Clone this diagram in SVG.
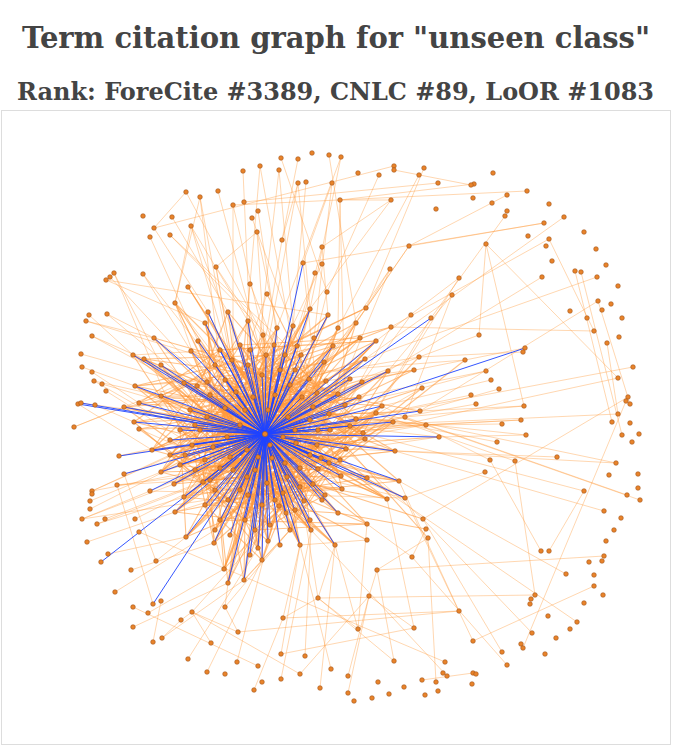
<svg xmlns="http://www.w3.org/2000/svg" width="700" height="750" viewBox="0 0 700 750">
<style>
.t{font-family:"DejaVu Serif","Liberation Serif",serif;font-weight:bold;fill:#444;text-anchor:middle}
#orange path{stroke:#ff9a3c;stroke-opacity:.4;stroke-width:1;fill:none}
#orange .d path{stroke-opacity:.6;stroke-width:1.1}
#blue path{stroke:#1f44ff;stroke-opacity:.9;stroke-width:1;fill:none}
#nodes circle{fill:#e8832a;stroke:#a3541a;stroke-width:.6}
</style>
<rect width="700" height="750" fill="#fff"/>
<text class="t" x="336" y="48" font-size="29" font-stretch="condensed" textLength="628" lengthAdjust="spacingAndGlyphs">Term citation graph for "unseen class"</text>
<text class="t" x="335.5" y="100" font-size="24.5" font-stretch="condensed" textLength="637" lengthAdjust="spacingAndGlyphs">Rank: ForeCite #3389, CNLC #89, LoOR #1083</text>
<rect x="1.5" y="110.5" width="669" height="634" fill="#fff" stroke="#ddd"/>
<g id="connectors">
<g id="orange">
<path d="M260 166L302 397"/><path d="M243 171L253 397"/><path d="M186 192L154 228"/><path d="M186 192L290 385"/><path d="M200 197L175 303"/><path d="M200 197L247 450"/><path d="M200 197L225 408"/><path d="M218 191L283 437"/><path d="M233 205L233 470"/><path d="M244 202L438 183"/><path d="M258 211L300 487"/><path d="M252 218L317 393"/><path d="M191 226L175 303"/><path d="M191 226L258 457"/><path d="M191 226L285 463"/><path d="M170 235L363 433"/><path d="M170 235L338 394"/><path d="M257 232L216 267"/><path d="M257 232L272 458"/><path d="M216 267L302 397"/><path d="M114 273L180 430"/><path d="M106 280L328 315"/><path d="M143 274L236 392"/><path d="M250 284L290 385"/><path d="M267 294L213 447"/><path d="M188 287L268 410"/><path d="M175 303L247 450"/><path d="M175 303L230 457"/><path d="M175 303L300 468"/><path d="M86 321L262 375"/><path d="M107 314L240 425"/><path d="M92 336L225 408"/><path d="M154 338L283 437"/><path d="M263 335L300 468"/><path d="M248 321L210 395"/><path d="M110 277L207 382"/>
<path d="M281 158L327 292"/><path d="M341 157L310 309"/><path d="M341 157L277 328"/><path d="M279 170L253 397"/><path d="M394 166L154 228"/><path d="M298 183L282 240"/><path d="M298 183L262 375"/><path d="M306 182L293 326"/><path d="M332 183L303 263"/><path d="M332 183L314 338"/><path d="M340 200L346 449"/><path d="M340 200L391 200"/><path d="M391 200L322 247"/><path d="M391 200L310 309"/><path d="M424 168L366 308"/><path d="M419 175L338 328"/><path d="M527 191L233 205"/><path d="M282 240L247 450"/><path d="M322 247L270 445"/><path d="M409 246L544 223"/><path d="M409 246L356 323"/><path d="M303 263L317 393"/><path d="M322 264L230 457"/><path d="M315 273L258 457"/><path d="M390 269L338 394"/><path d="M390 269L302 397"/><path d="M459 278L363 433"/><path d="M452 295L405 417"/><path d="M327 292L285 463"/><path d="M366 308L288 417"/><path d="M310 309L267 483"/><path d="M328 315L225 408"/><path d="M411 315L300 468"/><path d="M431 318L363 433"/><path d="M277 328L213 447"/><path d="M293 326L247 477"/><path d="M338 328L272 458"/><path d="M356 323L230 457"/><path d="M391 327L300 487"/><path d="M314 338L240 425"/><path d="M360 338L227 437"/><path d="M298 159L282 240"/><path d="M329 155L356 323"/><path d="M379 175L327 292"/>
<path d="M471 185L394 170"/><path d="M474 184L340 200"/><path d="M507 195L409 246"/><path d="M505 216L431 318"/><path d="M544 223L303 263"/><path d="M564 217L365 359"/><path d="M549 239L391 327"/><path d="M549 239L594 331"/><path d="M486 244L479 335"/><path d="M486 244L618 378"/><path d="M486 244L524 406"/><path d="M542 277L388 371"/><path d="M597 277L365 359"/><path d="M598 301L420 411"/><path d="M581 272L622 435"/><path d="M594 331L391 327"/><path d="M612 422L575 271"/><path d="M630 404L598 301"/>
<path d="M102 384L283 437"/><path d="M81 403L240 425"/><path d="M74 427L184 383"/><path d="M119 456L227 437"/><path d="M92 491L240 425"/><path d="M90 509L213 447"/><path d="M82 519L150 491"/><path d="M97 524L210 480"/><path d="M105 519L233 470"/><path d="M117 485L247 477"/><path d="M150 491L230 457"/><path d="M135 519L258 457"/><path d="M175 512L287 477"/><path d="M184 497L272 458"/><path d="M133 355L268 410"/><path d="M144 359L247 450"/><path d="M106 391L192 445"/><path d="M94 381L180 430"/><path d="M161 365L283 437"/><path d="M191 351L240 425"/><path d="M197 386L300 468"/><path d="M207 382L270 445"/><path d="M139 429L233 470"/><path d="M124 474L213 447"/>
<path d="M523 352L419 357"/><path d="M607 343L618 414"/><path d="M633 367L356 419"/><path d="M618 378L363 433"/><path d="M628 397L423 519"/><path d="M626 401L523 648"/><path d="M618 414L350 426"/><path d="M616 463L376 413"/><path d="M616 463L395 451"/><path d="M557 457L346 449"/><path d="M627 495L405 417"/><path d="M640 500L426 425"/><path d="M604 511L395 451"/><path d="M584 491L363 433"/><path d="M526 435L329 414"/><path d="M521 420L318 430"/><path d="M502 424L350 426"/><path d="M524 406L405 417"/><path d="M497 442L393 422"/><path d="M515 461L376 413"/><path d="M490 460L382 406"/><path d="M485 472L405 498"/><path d="M486 371L359 397"/><path d="M491 380L382 406"/><path d="M499 389L420 411"/><path d="M471 395L356 419"/><path d="M476 404L350 426"/>
<path d="M156 561L124 474"/><path d="M224 569L205 505"/><path d="M228 583L248 495"/><path d="M228 583L262 505"/><path d="M153 604L117 485"/><path d="M161 601L153 642"/><path d="M225 607L238 632"/><path d="M225 607L228 583"/><path d="M225 607L290 530"/><path d="M192 612L181 620"/><path d="M192 612L238 632"/><path d="M192 612L270 525"/><path d="M133 607L258 666"/><path d="M192 612L300 674"/><path d="M238 632L459 611"/><path d="M211 643L192 612"/><path d="M254 690L283 618"/><path d="M162 638L181 620"/><path d="M186 537L156 561"/>
<path d="M300 545L367 540"/><path d="M318 598L300 487"/><path d="M318 598L283 618"/><path d="M318 598L358 629"/><path d="M318 598L535 595"/><path d="M369 596L377 570"/><path d="M369 596L414 628"/><path d="M369 596L300 674"/><path d="M369 596L348 676"/><path d="M377 570L604 556"/><path d="M377 570L428 538"/><path d="M283 618L459 611"/><path d="M358 629L335 545"/><path d="M414 628L281 654"/><path d="M394 661L318 598"/><path d="M445 662L139 532"/><path d="M447 676L311 530"/><path d="M436 682L428 538"/><path d="M422 680L473 673"/><path d="M281 654L300 545"/><path d="M320 688L335 545"/><path d="M348 693L369 596"/><path d="M305 656L311 530"/><path d="M331 669L300 545"/><path d="M394 661L377 570"/><path d="M412 557L367 524"/><path d="M426 529L412 557"/>
<path d="M541 551L490 460"/><path d="M549 551L584 491"/><path d="M566 574L399 481"/><path d="M535 595L515 461"/><path d="M577 622L367 478"/><path d="M594 586L473 641"/><path d="M507 665L412 557"/><path d="M532 633L423 519"/>
<path d="M133 355L376 341"/><path d="M135 386L465 360"/><path d="M124 407L419 357"/><path d="M119 456L422 388"/><path d="M139 403L439 437"/><path d="M92 491L365 439"/><path d="M117 485L395 451"/><path d="M150 491L405 498"/><path d="M82 519L313 484"/>
<path d="M465 360L225 408"/><path d="M419 357L192 445"/><path d="M414 370L210 395"/><path d="M422 388L228 500"/><path d="M439 437L220 468"/><path d="M426 425L180 465"/><path d="M405 498L230 457"/><path d="M423 519L262 375"/>
<g class="d">
<path d="M207 417L302 397"/><path d="M207 417L283 493"/><path d="M207 417L313 407"/><path d="M225 408L300 468"/><path d="M225 408L338 394"/><path d="M225 408L262 505"/><path d="M236 392L300 487"/><path d="M236 392L329 414"/><path d="M236 392L184 383"/><path d="M253 397L233 470"/><path d="M253 397L326 381"/><path d="M253 397L190 410"/><path d="M268 410L210 480"/><path d="M268 410L359 397"/><path d="M268 410L232 360"/><path d="M288 417L220 468"/><path d="M288 417L350 426"/><path d="M288 417L240 345"/><path d="M302 397L247 477"/><path d="M302 397L180 430"/><path d="M317 393L258 457"/><path d="M317 393L225 380"/><path d="M283 437L205 505"/><path d="M283 437L362 382"/><path d="M283 437L192 445"/><path d="M270 445L317 393"/><path d="M270 445L180 465"/><path d="M270 445L338 513"/><path d="M240 425L317 445"/><path d="M240 425L290 385"/><path d="M240 425L248 365"/><path d="M227 437L285 463"/><path d="M227 437L309 379"/><path d="M213 447L300 487"/><path d="M213 447L288 417"/><path d="M230 457L302 397"/><path d="M230 457L290 530"/><path d="M247 450L321 458"/><path d="M247 450L210 395"/><path d="M247 450L266 355"/><path d="M258 457L195 470"/><path d="M258 457L329 463"/><path d="M272 458L225 380"/><path d="M272 458L245 520"/><path d="M285 463L207 382"/><path d="M285 463L356 419"/><path d="M300 468L240 425"/><path d="M300 468L220 520"/><path d="M287 477L236 392"/><path d="M287 477L341 476"/><path d="M247 477L313 484"/><path d="M247 477L262 375"/><path d="M233 470L285 355"/><path d="M233 470L318 430"/><path d="M220 468L283 437"/><path d="M220 468L174 484"/><path d="M210 480L268 410"/><path d="M267 483L207 417"/><path d="M267 483L313 407"/><path d="M300 487L253 397"/><path d="M300 487L203 482"/><path d="M283 493L227 437"/><path d="M283 493L346 449"/><path d="M248 495L288 417"/><path d="M248 495L161 472"/><path d="M228 500L283 437"/><path d="M228 500L170 455"/><path d="M262 505L302 397"/><path d="M262 505L184 497"/><path d="M245 520L272 458"/><path d="M270 525L230 457"/><path d="M232 360L283 437"/><path d="M232 360L161 396"/><path d="M248 365L300 468"/><path d="M262 375L213 447"/><path d="M262 375L324 362"/><path d="M280 370L240 425"/><path d="M280 370L338 394"/><path d="M290 385L233 470"/><path d="M290 385L207 417"/><path d="M225 380L270 445"/><path d="M225 380L152 450"/><path d="M210 395L287 477"/><path d="M190 410L258 457"/><path d="M190 410L135 386"/><path d="M180 430L268 410"/><path d="M180 430L247 477"/><path d="M192 445L300 468"/><path d="M192 445L302 397"/><path d="M180 465L253 397"/><path d="M195 470L272 458"/><path d="M205 505L288 417"/><path d="M220 520L283 437"/><path d="M255 530L236 392"/><path d="M290 530L270 445"/><path d="M240 345L272 458"/><path d="M220 350L288 417"/><path d="M266 355L227 437"/><path d="M285 355L247 477"/><path d="M274 345L213 447"/><path d="M297 346L230 457"/><path d="M301 355L240 425"/><path d="M309 379L207 417"/><path d="M326 381L228 500"/><path d="M313 407L233 470"/><path d="M329 414L220 468"/><path d="M318 430L210 480"/><path d="M296 443L225 408"/><path d="M317 445L236 392"/><path d="M321 458L213 447"/><path d="M318 469L190 410"/><path d="M313 484L240 425"/><path d="M304 501L253 397"/><path d="M279 506L225 380"/><path d="M286 513L262 375"/><path d="M310 520L247 450"/><path d="M311 530L267 483"/><path d="M338 513L270 445"/><path d="M325 495L232 360"/><path d="M342 489L248 365"/><path d="M341 476L210 395"/><path d="M346 449L207 417"/><path d="M350 426L180 430"/><path d="M356 419L220 468"/><path d="M363 433L253 397"/><path d="M365 439L195 470"/><path d="M359 397L262 505"/><path d="M338 394L230 457"/><path d="M376 413L258 457"/><path d="M382 406L283 493"/><path d="M393 422L272 458"/><path d="M395 451L285 463"/><path d="M399 481L300 468"/><path d="M405 498L283 437"/><path d="M387 499L270 445"/><path d="M367 478L247 450"/><path d="M367 524L255 530"/><path d="M423 519L313 484"/><path d="M426 529L338 513"/><path d="M420 411L317 393"/><path d="M426 425L329 414"/><path d="M405 417L296 443"/><path d="M388 371L317 445"/><path d="M414 370L362 382"/><path d="M362 382L288 417"/><path d="M350 379L268 410"/><path d="M324 362L300 468"/><path d="M333 346L227 437"/><path d="M376 341L283 437"/><path d="M365 359L240 425"/><path d="M419 357L321 458"/><path d="M465 360L365 439"/><path d="M422 388L346 449"/><path d="M184 383L283 437"/><path d="M197 386L300 487"/><path d="M207 382L283 493"/><path d="M161 396L268 410"/><path d="M152 450L283 437"/><path d="M170 455L302 397"/><path d="M161 472L253 397"/><path d="M174 484L288 417"/><path d="M203 482L317 393"/><path d="M184 497L285 463"/><path d="M175 512L290 385"/><path d="M215 530L302 397"/><path d="M186 537L283 437"/><path d="M214 543L300 468"/><path d="M224 569L270 445"/><path d="M228 583L247 450"/><path d="M258 548L283 437"/><path d="M262 560L300 468"/><path d="M268 541L240 425"/><path d="M300 545L258 457"/><path d="M335 545L270 445"/><path d="M311 530L213 447"/><path d="M367 540L247 477"/><path d="M428 538L302 397"/>
<path d="M207 417L154 338M207 417L338 394M207 417L311 530M207 417L139 429M207 417L376 413"/>
<path d="M225 408L175 303M225 408L365 359M225 408L286 513M225 408L134 422M225 408L203 482"/>
<path d="M236 392L328 315M236 392L161 472M236 392L395 451M236 392L205 323M236 392L300 545"/>
<path d="M253 397L124 407M253 397L346 449M253 397L215 530M253 397L310 309M253 397L382 406"/>
<path d="M268 410L144 359M268 410L393 422M268 410L258 548M268 410L188 287M268 410L174 484"/>
<path d="M288 417L135 386M288 417L367 478M288 417L214 543M288 417L248 321M288 417L170 455"/>
<path d="M302 397L161 396M302 397L399 481M302 397L268 541M302 397L228 312M302 397L152 450"/>
<path d="M317 393L184 383M317 393L342 489M317 393L186 537M317 393L267 294M317 393L139 403"/>
<path d="M283 437L133 355M283 437L387 499M283 437L224 569M283 437L356 323M283 437L124 407"/>
<path d="M270 445L197 386M270 445L376 341M270 445L175 512M270 445L304 501M270 445L161 365"/>
<path d="M240 425L360 338M240 425L325 495M240 425L184 497M240 425L263 335M240 425L395 451"/>
<path d="M227 437L297 346M227 437L341 476M227 437L262 560M227 437L191 351M227 437L388 371"/>
<path d="M213 447L333 346M213 447L329 463M213 447L228 583M213 447L208 312M213 447L350 426"/>
<path d="M230 457L388 371M230 457L335 545M230 457L161 396M230 457L274 345M230 457L363 433"/>
<path d="M247 450L359 397M247 450L311 530M247 450L134 422M247 450L216 267M247 450L313 407"/>
<path d="M258 457L350 379M258 457L244 580M258 457L144 359M258 457L293 326M258 457L399 481"/>
<path d="M272 458L326 381M272 458L186 537M272 458L135 386M272 458L314 338M272 458L365 439"/>
<path d="M285 463L309 379M285 463L215 530M285 463L154 338M285 463L382 406M285 463L300 545"/>
<path d="M300 468L301 355M300 468L203 482M300 468L188 287M300 468L346 449M300 468L338 513"/>
<path d="M287 477L338 328M287 477L170 455M287 477L228 312M287 477L393 422M287 477L268 541"/>
<path d="M247 477L329 414M247 477L174 484M247 477L205 323M247 477L376 341M247 477L304 501"/>
<path d="M233 470L359 397M233 470L161 472M233 470L250 284M233 470L387 499M233 470L279 506"/>
<path d="M220 468L356 419M220 468L152 450M220 468L277 328M220 468L363 433M220 468L258 548"/>
<path d="M210 480L313 407M210 480L139 429M210 480L310 309M210 480L318 469M210 480L214 543"/>
<path d="M267 483L362 382M267 483L184 497M267 483L198 341M267 483L367 524M267 483L335 545"/>
<path d="M300 487L318 430M300 487L175 512M300 487L175 303M300 487L376 413M300 487L224 569"/>
<path d="M283 493L338 394M283 493L184 383M283 493L263 335M283 493L399 481M283 493L262 560"/>
<path d="M248 495L350 426M248 495L161 396M248 495L297 346M248 495L342 489M248 495L228 583"/>
<path d="M228 500L365 359M228 500L133 355M228 500L324 362M228 500L367 478M228 500L244 580"/>
<path d="M262 505L376 413M262 505L124 407M262 505L301 355M262 505L321 458M262 505L186 537"/>
<path d="M245 520L346 449M245 520L134 422M245 520L333 346M245 520L313 484M245 520L175 512"/>
<path d="M270 525L382 406M270 525L161 365M270 525L350 379M270 525L325 495M270 525L203 482"/>
<path d="M232 360L329 463M232 360L154 338M232 360L338 394M232 360L175 303M232 360L296 443"/>
<path d="M248 365L318 469M248 365L139 403M248 365L366 308M248 365L341 476M248 365L184 497"/>
<path d="M262 375L311 530M262 375L144 359M262 375L356 323M262 375L395 451M262 375L170 455"/>
<path d="M280 370L304 501M280 370L135 386M280 370L391 327M280 370L318 430M280 370L161 472"/>
<path d="M290 385L286 513M290 385L191 351M290 385L360 338M290 385L363 433M290 385L152 450"/>
<path d="M225 380L300 545M225 380L198 341M225 380L333 346M225 380L365 439M225 380L174 484"/>
<path d="M210 395L310 520M210 395L208 312M210 395L324 362M210 395L346 449M210 395L203 482"/>
<path d="M190 410L279 506M190 410L228 312M190 410L309 379M190 410L329 463M190 410L215 530"/>
<path d="M180 430L313 484M180 430L248 321M180 430L297 346M180 430L359 397M180 430L186 537"/>
<path d="M192 445L325 495M192 445L263 335M192 445L350 379M192 445L338 394M192 445L214 543"/>
<path d="M180 465L342 489M180 465L277 328M180 465L326 381M180 465L356 419M180 465L268 541"/>
<path d="M195 470L304 501M195 470L293 326M195 470L362 382M195 470L363 433M195 470L258 548"/>
<path d="M205 505L338 513M205 505L310 309M205 505L376 413M205 505L341 476M205 505L262 560"/>
<path d="M220 520L367 524M220 520L328 315M220 520L382 406M220 520L317 445M220 520L224 569"/>
<path d="M255 530L321 458M255 530L338 328M255 530L393 422M255 530L365 439M255 530L228 583"/>
<path d="M290 530L318 469M290 530L356 323M290 530L388 371M290 530L346 449M290 530L244 580"/>
<path d="M240 345L313 407M240 345L360 338M240 345L329 463M240 345L134 422M240 345L161 472"/>
<path d="M220 350L350 426M220 350L376 341M220 350L341 476M220 350L139 403M220 350L152 450"/>
<path d="M266 355L365 439M266 355L366 308M266 355L313 484M266 355L135 386M266 355L170 455"/>
<path d="M285 355L356 419M285 355L391 327M285 355L311 530M285 355L144 359M285 355L203 482"/>
<path d="M215 365L300 468M250 350L213 447M275 395L230 457M245 410L300 487M295 430L207 417M310 455L225 380M255 470L317 393M240 490L302 397M275 500L236 392M295 510L210 395"/>
<path d="M200 430L288 417M185 455L283 437M170 440L270 445M215 490L302 397M230 535L268 410M280 545L253 397M250 555L285 463M205 460L317 445M195 425L272 458M295 370L213 447"/>
<path d="M310 420L190 410M322 500L240 425M340 460L227 437M330 430L220 468M345 405L247 477M215 365L338 394M250 350L300 545M310 455L161 396M275 500L135 386M240 490L350 379"/>
<path d="M133 355L338 513"/><path d="M144 359L387 499"/><path d="M124 407L399 481"/><path d="M139 429L393 422"/><path d="M152 450L376 341"/><path d="M161 472L365 359"/><path d="M174 484L350 379"/><path d="M184 497L338 394"/><path d="M203 482L333 346"/><path d="M175 512L324 362"/><path d="M186 537L310 309"/><path d="M214 543L297 346"/><path d="M215 530L328 315"/><path d="M224 569L293 326"/><path d="M228 583L277 328"/><path d="M244 580L248 321"/><path d="M258 548L228 312"/><path d="M262 560L205 323"/><path d="M268 541L198 341"/><path d="M300 545L191 351"/><path d="M311 530L161 365"/><path d="M335 545L144 359"/><path d="M367 524L184 383"/><path d="M387 499L135 386"/><path d="M405 498L161 396"/><path d="M399 481L139 403"/><path d="M395 451L124 407"/><path d="M420 411L134 422"/><path d="M426 425L152 450"/><path d="M439 437L170 455"/><path d="M422 388L161 472"/><path d="M414 370L174 484"/><path d="M388 371L203 482"/><path d="M376 341L184 497"/><path d="M365 359L175 512"/><path d="M360 338L186 537"/><path d="M356 323L214 543"/><path d="M338 328L215 530"/><path d="M328 315L224 569"/><path d="M310 309L228 583"/><path d="M293 326L244 580"/><path d="M277 328L258 548"/><path d="M263 335L262 560"/><path d="M248 321L268 541"/><path d="M228 312L300 545"/><path d="M208 312L311 530"/><path d="M205 323L335 545"/><path d="M198 341L367 524"/><path d="M191 351L387 499"/>
</g>
<path d="M154 338L86 321M154 338L107 314M133 355L89 315M144 359L92 336M161 365L114 273M191 351L143 274M198 341L150 237M208 312L154 228M228 312L172 217M248 321L191 226M205 323L106 280"/>
<path d="M184 383L81 354M135 386L82 367M139 403L92 372M161 396L94 381M124 407L74 427M134 422L95 405M152 450L78 404M170 455L92 491M161 472L90 501M174 484L82 519M184 497L97 524"/>
<path d="M175 512L87 542M186 537L108 554M214 543L131 570M215 530L115 592M224 569L148 613M228 583L133 627M244 580L162 638M258 548L188 659M262 560L207 672M268 541L237 662M300 545L283 618"/>
<path d="M311 530L281 679M335 545L318 598M367 524L358 629M387 499L414 628M399 481L459 611M405 498L473 641M423 519L502 652M439 437L526 435M426 425L521 420M420 411L524 406M422 388L486 371"/>
<path d="M465 360L525 348M419 357L479 335M388 371L452 295M376 341L459 278M366 308L390 269M356 323L409 246M338 328L340 200M328 315L322 247M310 309L298 183M293 326L279 170M277 328L257 232M263 335L233 205M250 284L260 166"/>
</g>
<g id="blue">
<path d="M265 434L303 263"/><path d="M265 434L328 315"/><path d="M265 434L310 309"/><path d="M265 434L293 326"/><path d="M265 434L277 328"/><path d="M265 434L208 312"/><path d="M265 434L228 312"/><path d="M265 434L248 321"/><path d="M265 434L205 323"/><path d="M265 434L154 338"/><path d="M265 434L198 341"/><path d="M265 434L191 351"/><path d="M265 434L133 355"/><path d="M265 434L144 359"/><path d="M265 434L161 365"/><path d="M265 434L135 386"/><path d="M265 434L78 404"/><path d="M265 434L81 403"/><path d="M265 434L124 407"/><path d="M265 434L139 403"/><path d="M265 434L134 422"/><path d="M265 434L152 450"/><path d="M265 434L124 474"/><path d="M265 434L161 472"/><path d="M265 434L174 484"/><path d="M265 434L203 482"/><path d="M265 434L170 455"/><path d="M265 434L184 383"/><path d="M265 434L207 382"/><path d="M265 434L101 562"/><path d="M265 434L153 604"/><path d="M265 434L186 537"/><path d="M265 434L214 543"/><path d="M265 434L244 580"/><path d="M265 434L258 548"/><path d="M265 434L262 560"/><path d="M265 434L268 541"/><path d="M265 434L228 583"/><path d="M265 434L311 530"/><path d="M265 434L335 545"/><path d="M265 434L300 545"/><path d="M265 434L405 498"/><path d="M265 434L439 437"/><path d="M265 434L525 348"/><path d="M265 434L431 318"/><path d="M265 434L333 346"/><path d="M265 434L365 359"/><path d="M265 434L388 371"/><path d="M265 434L324 362"/><path d="M265 434L376 341"/><path d="M265 434L350 379"/><path d="M265 434L362 382"/><path d="M265 434L420 411"/><path d="M265 434L393 422"/><path d="M265 434L382 406"/><path d="M265 434L395 451"/><path d="M265 434L399 481"/><path d="M265 434L342 489"/><path d="M265 434L367 478"/><path d="M265 434L341 476"/><path d="M265 434L325 495"/><path d="M265 434L304 501"/><path d="M265 434L286 513"/><path d="M265 434L310 520"/><path d="M265 434L338 513"/><path d="M265 434L329 463"/><path d="M265 434L321 458"/><path d="M265 434L346 449"/><path d="M265 434L350 426"/><path d="M265 434L356 419"/><path d="M265 434L359 397"/><path d="M265 434L317 445"/><path d="M265 434L318 469"/><path d="M265 434L313 484"/><path d="M265 434L338 394"/><path d="M265 434L329 414"/><path d="M265 434L313 407"/><path d="M265 434L309 379"/><path d="M265 434L301 355"/><path d="M265 434L297 346"/><path d="M265 434L274 345"/><path d="M265 434L175 512"/><path d="M265 434L184 497"/><path d="M265 434L150 491"/><path d="M265 434L119 456"/>
<path d="M265 434L207 417"/><path d="M265 434L225 408"/><path d="M265 434L236 392"/><path d="M265 434L253 397"/><path d="M265 434L268 410"/><path d="M265 434L288 417"/><path d="M265 434L302 397"/><path d="M265 434L283 437"/><path d="M265 434L240 425"/><path d="M265 434L227 437"/><path d="M265 434L213 447"/><path d="M265 434L230 457"/><path d="M265 434L247 450"/><path d="M265 434L258 457"/><path d="M265 434L272 458"/><path d="M265 434L285 463"/><path d="M265 434L300 468"/><path d="M265 434L287 477"/><path d="M265 434L247 477"/><path d="M265 434L233 470"/><path d="M265 434L210 480"/><path d="M265 434L267 483"/><path d="M265 434L300 487"/><path d="M265 434L283 493"/><path d="M265 434L248 495"/><path d="M265 434L228 500"/><path d="M265 434L262 505"/><path d="M265 434L245 520"/><path d="M265 434L270 525"/><path d="M265 434L232 360"/><path d="M265 434L248 365"/><path d="M265 434L262 375"/><path d="M265 434L280 370"/><path d="M265 434L290 385"/><path d="M265 434L225 380"/><path d="M265 434L210 395"/><path d="M265 434L190 410"/><path d="M265 434L180 430"/><path d="M265 434L192 445"/><path d="M265 434L180 465"/><path d="M265 434L205 505"/><path d="M265 434L220 520"/><path d="M265 434L255 530"/><path d="M265 434L290 530"/><path d="M265 434L240 345"/><path d="M265 434L220 350"/><path d="M265 434L266 355"/><path d="M265 434L285 355"/>
<path d="M265 434L215 365"/><path d="M265 434L250 350"/><path d="M265 434L275 395"/><path d="M265 434L245 410"/><path d="M265 434L295 430"/><path d="M265 434L310 455"/><path d="M265 434L255 470"/><path d="M265 434L240 490"/><path d="M265 434L275 500"/><path d="M265 434L295 510"/><path d="M265 434L200 430"/><path d="M265 434L185 455"/><path d="M265 434L170 440"/><path d="M265 434L215 490"/><path d="M265 434L230 535"/><path d="M265 434L280 545"/><path d="M265 434L250 555"/><path d="M265 434L205 460"/><path d="M265 434L195 425"/><path d="M265 434L295 370"/><path d="M265 434L310 420"/><path d="M265 434L322 500"/><path d="M265 434L340 460"/><path d="M265 434L330 430"/><path d="M265 434L345 405"/>
</g>
</g>
<g id="nodes">
<g id="hub"><circle cx="265" cy="434" r="2.6"/></g>
<g id="n1"><circle cx="260" cy="166" r="2.3"/></g><g id="n2"><circle cx="243" cy="171" r="2.3"/></g><g id="n3"><circle cx="186" cy="192" r="2.3"/></g><g id="n4"><circle cx="218" cy="191" r="2.3"/></g><g id="n5"><circle cx="200" cy="197" r="2.3"/></g><g id="n6"><circle cx="233" cy="205" r="2.3"/></g><g id="n7"><circle cx="244" cy="202" r="2.3"/></g><g id="n8"><circle cx="143" cy="216" r="2.3"/></g><g id="n9"><circle cx="172" cy="217" r="2.3"/></g><g id="n10"><circle cx="258" cy="211" r="2.3"/></g><g id="n11"><circle cx="252" cy="218" r="2.3"/></g><g id="n12"><circle cx="154" cy="228" r="2.3"/></g><g id="n13"><circle cx="191" cy="226" r="2.3"/></g><g id="n14"><circle cx="150" cy="237" r="2.3"/></g><g id="n15"><circle cx="170" cy="235" r="2.3"/></g><g id="n16"><circle cx="257" cy="232" r="2.3"/></g><g id="n17"><circle cx="216" cy="267" r="2.3"/></g><g id="n18"><circle cx="114" cy="273" r="2.3"/></g><g id="n19"><circle cx="110" cy="277" r="2.3"/></g><g id="n20"><circle cx="106" cy="280" r="2.3"/></g><g id="n21"><circle cx="143" cy="274" r="2.3"/></g><g id="n22"><circle cx="250" cy="284" r="2.3"/></g><g id="n23"><circle cx="267" cy="294" r="2.3"/></g><g id="n24"><circle cx="188" cy="287" r="2.3"/></g><g id="n25"><circle cx="175" cy="303" r="2.3"/></g><g id="n26"><circle cx="89" cy="315" r="2.3"/></g><g id="n27"><circle cx="107" cy="314" r="2.3"/></g><g id="n28"><circle cx="86" cy="321" r="2.3"/></g><g id="n29"><circle cx="208" cy="312" r="2.3"/></g><g id="n30"><circle cx="228" cy="312" r="2.3"/></g><g id="n31"><circle cx="248" cy="321" r="2.3"/></g><g id="n32"><circle cx="205" cy="323" r="2.3"/></g><g id="n33"><circle cx="263" cy="335" r="2.3"/></g><g id="n34"><circle cx="92" cy="336" r="2.3"/></g><g id="n35"><circle cx="154" cy="338" r="2.3"/></g>
<g id="n36"><circle cx="281" cy="158" r="2.3"/></g><g id="n37"><circle cx="298" cy="159" r="2.3"/></g><g id="n38"><circle cx="312" cy="153" r="2.3"/></g><g id="n39"><circle cx="329" cy="155" r="2.3"/></g><g id="n40"><circle cx="341" cy="157" r="2.3"/></g><g id="n41"><circle cx="279" cy="170" r="2.3"/></g><g id="n42"><circle cx="358" cy="173" r="2.3"/></g><g id="n43"><circle cx="379" cy="175" r="2.3"/></g><g id="n44"><circle cx="394" cy="166" r="2.3"/></g><g id="n45"><circle cx="394" cy="170" r="2.3"/></g><g id="n46"><circle cx="424" cy="168" r="2.3"/></g><g id="n47"><circle cx="419" cy="175" r="2.3"/></g><g id="n48"><circle cx="438" cy="183" r="2.3"/></g><g id="n49"><circle cx="298" cy="183" r="2.3"/></g><g id="n50"><circle cx="306" cy="182" r="2.3"/></g><g id="n51"><circle cx="332" cy="183" r="2.3"/></g><g id="n52"><circle cx="340" cy="200" r="2.3"/></g><g id="n53"><circle cx="391" cy="200" r="2.3"/></g><g id="n54"><circle cx="436" cy="209" r="2.3"/></g><g id="n55"><circle cx="282" cy="240" r="2.3"/></g><g id="n56"><circle cx="322" cy="247" r="2.3"/></g><g id="n57"><circle cx="409" cy="246" r="2.3"/></g><g id="n58"><circle cx="303" cy="263" r="2.3"/></g><g id="n59"><circle cx="322" cy="264" r="2.3"/></g><g id="n60"><circle cx="315" cy="273" r="2.3"/></g><g id="n61"><circle cx="390" cy="269" r="2.3"/></g><g id="n62"><circle cx="459" cy="278" r="2.3"/></g><g id="n63"><circle cx="452" cy="295" r="2.3"/></g><g id="n64"><circle cx="327" cy="292" r="2.3"/></g><g id="n65"><circle cx="366" cy="308" r="2.3"/></g><g id="n66"><circle cx="310" cy="309" r="2.3"/></g><g id="n67"><circle cx="328" cy="315" r="2.3"/></g><g id="n68"><circle cx="411" cy="315" r="2.3"/></g><g id="n69"><circle cx="431" cy="318" r="2.3"/></g><g id="n70"><circle cx="277" cy="328" r="2.3"/></g><g id="n71"><circle cx="293" cy="326" r="2.3"/></g><g id="n72"><circle cx="338" cy="328" r="2.3"/></g><g id="n73"><circle cx="356" cy="323" r="2.3"/></g><g id="n74"><circle cx="391" cy="327" r="2.3"/></g><g id="n75"><circle cx="314" cy="338" r="2.3"/></g><g id="n76"><circle cx="360" cy="338" r="2.3"/></g>
<g id="n77"><circle cx="493" cy="173" r="2.3"/></g><g id="n78"><circle cx="474" cy="184" r="2.3"/></g><g id="n79"><circle cx="471" cy="185" r="2.3"/></g><g id="n80"><circle cx="473" cy="198" r="2.3"/></g><g id="n81"><circle cx="507" cy="195" r="2.3"/></g><g id="n82"><circle cx="527" cy="191" r="2.3"/></g><g id="n83"><circle cx="492" cy="203" r="2.3"/></g><g id="n84"><circle cx="507" cy="211" r="2.3"/></g><g id="n85"><circle cx="505" cy="216" r="2.3"/></g><g id="n86"><circle cx="549" cy="204" r="2.3"/></g><g id="n87"><circle cx="564" cy="217" r="2.3"/></g><g id="n88"><circle cx="544" cy="223" r="2.3"/></g><g id="n89"><circle cx="584" cy="232" r="2.3"/></g><g id="n90"><circle cx="528" cy="236" r="2.3"/></g><g id="n91"><circle cx="549" cy="239" r="2.3"/></g><g id="n92"><circle cx="546" cy="246" r="2.3"/></g><g id="n93"><circle cx="486" cy="244" r="2.3"/></g><g id="n94"><circle cx="596" cy="249" r="2.3"/></g><g id="n95"><circle cx="552" cy="261" r="2.3"/></g><g id="n96"><circle cx="606" cy="265" r="2.3"/></g><g id="n97"><circle cx="575" cy="271" r="2.3"/></g><g id="n98"><circle cx="581" cy="272" r="2.3"/></g><g id="n99"><circle cx="542" cy="277" r="2.3"/></g><g id="n100"><circle cx="597" cy="277" r="2.3"/></g><g id="n101"><circle cx="618" cy="286" r="2.3"/></g><g id="n102"><circle cx="598" cy="301" r="2.3"/></g><g id="n103"><circle cx="611" cy="304" r="2.3"/></g><g id="n104"><circle cx="602" cy="310" r="2.3"/></g><g id="n105"><circle cx="570" cy="311" r="2.3"/></g><g id="n106"><circle cx="587" cy="318" r="2.3"/></g><g id="n107"><circle cx="622" cy="318" r="2.3"/></g><g id="n108"><circle cx="594" cy="331" r="2.3"/></g><g id="n109"><circle cx="619" cy="337" r="2.3"/></g><g id="n110"><circle cx="479" cy="335" r="2.3"/></g>
<g id="n111"><circle cx="81" cy="354" r="2.3"/></g><g id="n112"><circle cx="82" cy="367" r="2.3"/></g><g id="n113"><circle cx="92" cy="372" r="2.3"/></g><g id="n114"><circle cx="94" cy="381" r="2.3"/></g><g id="n115"><circle cx="106" cy="391" r="2.3"/></g><g id="n116"><circle cx="102" cy="384" r="2.3"/></g><g id="n117"><circle cx="133" cy="355" r="2.3"/></g><g id="n118"><circle cx="144" cy="359" r="2.3"/></g><g id="n119"><circle cx="191" cy="351" r="2.3"/></g><g id="n120"><circle cx="198" cy="341" r="2.3"/></g><g id="n121"><circle cx="161" cy="365" r="2.3"/></g><g id="n122"><circle cx="135" cy="386" r="2.3"/></g><g id="n123"><circle cx="78" cy="404" r="2.3"/></g><g id="n124"><circle cx="81" cy="403" r="2.3"/></g><g id="n125"><circle cx="95" cy="405" r="2.3"/></g><g id="n126"><circle cx="124" cy="407" r="2.3"/></g><g id="n127"><circle cx="139" cy="403" r="2.3"/></g><g id="n128"><circle cx="74" cy="427" r="2.3"/></g><g id="n129"><circle cx="134" cy="422" r="2.3"/></g><g id="n130"><circle cx="139" cy="429" r="2.3"/></g><g id="n131"><circle cx="161" cy="396" r="2.3"/></g><g id="n132"><circle cx="184" cy="383" r="2.3"/></g><g id="n133"><circle cx="197" cy="386" r="2.3"/></g><g id="n134"><circle cx="207" cy="382" r="2.3"/></g><g id="n135"><circle cx="119" cy="456" r="2.3"/></g><g id="n136"><circle cx="152" cy="450" r="2.3"/></g><g id="n137"><circle cx="124" cy="474" r="2.3"/></g><g id="n138"><circle cx="161" cy="472" r="2.3"/></g><g id="n139"><circle cx="170" cy="455" r="2.3"/></g><g id="n140"><circle cx="117" cy="485" r="2.3"/></g><g id="n141"><circle cx="92" cy="491" r="2.3"/></g><g id="n142"><circle cx="92" cy="494" r="2.3"/></g><g id="n143"><circle cx="90" cy="501" r="2.3"/></g><g id="n144"><circle cx="90" cy="509" r="2.3"/></g><g id="n145"><circle cx="150" cy="491" r="2.3"/></g><g id="n146"><circle cx="174" cy="484" r="2.3"/></g><g id="n147"><circle cx="184" cy="497" r="2.3"/></g><g id="n148"><circle cx="203" cy="482" r="2.3"/></g><g id="n149"><circle cx="82" cy="519" r="2.3"/></g><g id="n150"><circle cx="97" cy="524" r="2.3"/></g><g id="n151"><circle cx="105" cy="519" r="2.3"/></g><g id="n152"><circle cx="135" cy="519" r="2.3"/></g><g id="n153"><circle cx="175" cy="512" r="2.3"/></g><g id="n154"><circle cx="215" cy="530" r="2.3"/></g><g id="n155"><circle cx="139" cy="532" r="2.3"/></g>
<g id="n156"><circle cx="274" cy="345" r="2.3"/></g><g id="n157"><circle cx="297" cy="346" r="2.3"/></g><g id="n158"><circle cx="333" cy="346" r="2.3"/></g><g id="n159"><circle cx="376" cy="341" r="2.3"/></g><g id="n160"><circle cx="301" cy="355" r="2.3"/></g><g id="n161"><circle cx="324" cy="362" r="2.3"/></g><g id="n162"><circle cx="365" cy="359" r="2.3"/></g><g id="n163"><circle cx="419" cy="357" r="2.3"/></g><g id="n164"><circle cx="465" cy="360" r="2.3"/></g><g id="n165"><circle cx="388" cy="371" r="2.3"/></g><g id="n166"><circle cx="414" cy="370" r="2.3"/></g><g id="n167"><circle cx="350" cy="379" r="2.3"/></g><g id="n168"><circle cx="326" cy="381" r="2.3"/></g><g id="n169"><circle cx="362" cy="382" r="2.3"/></g><g id="n170"><circle cx="309" cy="379" r="2.3"/></g><g id="n171"><circle cx="422" cy="388" r="2.3"/></g><g id="n172"><circle cx="359" cy="397" r="2.3"/></g><g id="n173"><circle cx="338" cy="394" r="2.3"/></g><g id="n174"><circle cx="382" cy="406" r="2.3"/></g><g id="n175"><circle cx="313" cy="407" r="2.3"/></g><g id="n176"><circle cx="420" cy="411" r="2.3"/></g><g id="n177"><circle cx="376" cy="413" r="2.3"/></g><g id="n178"><circle cx="405" cy="417" r="2.3"/></g><g id="n179"><circle cx="329" cy="414" r="2.3"/></g><g id="n180"><circle cx="356" cy="419" r="2.3"/></g><g id="n181"><circle cx="393" cy="422" r="2.3"/></g><g id="n182"><circle cx="426" cy="425" r="2.3"/></g><g id="n183"><circle cx="350" cy="426" r="2.3"/></g><g id="n184"><circle cx="318" cy="430" r="2.3"/></g><g id="n185"><circle cx="363" cy="433" r="2.3"/></g><g id="n186"><circle cx="365" cy="439" r="2.3"/></g><g id="n187"><circle cx="439" cy="437" r="2.3"/></g><g id="n188"><circle cx="317" cy="445" r="2.3"/></g><g id="n189"><circle cx="296" cy="443" r="2.3"/></g><g id="n190"><circle cx="346" cy="449" r="2.3"/></g><g id="n191"><circle cx="395" cy="451" r="2.3"/></g><g id="n192"><circle cx="321" cy="458" r="2.3"/></g><g id="n193"><circle cx="329" cy="463" r="2.3"/></g><g id="n194"><circle cx="318" cy="469" r="2.3"/></g><g id="n195"><circle cx="341" cy="476" r="2.3"/></g><g id="n196"><circle cx="367" cy="478" r="2.3"/></g><g id="n197"><circle cx="399" cy="481" r="2.3"/></g><g id="n198"><circle cx="342" cy="489" r="2.3"/></g><g id="n199"><circle cx="313" cy="484" r="2.3"/></g><g id="n200"><circle cx="325" cy="495" r="2.3"/></g><g id="n201"><circle cx="405" cy="498" r="2.3"/></g><g id="n202"><circle cx="387" cy="499" r="2.3"/></g><g id="n203"><circle cx="304" cy="501" r="2.3"/></g><g id="n204"><circle cx="279" cy="506" r="2.3"/></g><g id="n205"><circle cx="286" cy="513" r="2.3"/></g><g id="n206"><circle cx="338" cy="513" r="2.3"/></g><g id="n207"><circle cx="310" cy="520" r="2.3"/></g><g id="n208"><circle cx="423" cy="519" r="2.3"/></g><g id="n209"><circle cx="367" cy="524" r="2.3"/></g><g id="n210"><circle cx="311" cy="530" r="2.3"/></g><g id="n211"><circle cx="426" cy="529" r="2.3"/></g>
<g id="n212"><circle cx="525" cy="348" r="2.3"/></g><g id="n213"><circle cx="523" cy="352" r="2.3"/></g><g id="n214"><circle cx="607" cy="343" r="2.3"/></g><g id="n215"><circle cx="486" cy="371" r="2.3"/></g><g id="n216"><circle cx="491" cy="380" r="2.3"/></g><g id="n217"><circle cx="499" cy="389" r="2.3"/></g><g id="n218"><circle cx="633" cy="367" r="2.3"/></g><g id="n219"><circle cx="618" cy="378" r="2.3"/></g><g id="n220"><circle cx="471" cy="395" r="2.3"/></g><g id="n221"><circle cx="476" cy="404" r="2.3"/></g><g id="n222"><circle cx="524" cy="406" r="2.3"/></g><g id="n223"><circle cx="628" cy="397" r="2.3"/></g><g id="n224"><circle cx="626" cy="401" r="2.3"/></g><g id="n225"><circle cx="630" cy="404" r="2.3"/></g><g id="n226"><circle cx="618" cy="414" r="2.3"/></g><g id="n227"><circle cx="521" cy="420" r="2.3"/></g><g id="n228"><circle cx="502" cy="424" r="2.3"/></g><g id="n229"><circle cx="612" cy="422" r="2.3"/></g><g id="n230"><circle cx="630" cy="423" r="2.3"/></g><g id="n231"><circle cx="526" cy="435" r="2.3"/></g><g id="n232"><circle cx="622" cy="435" r="2.3"/></g><g id="n233"><circle cx="639" cy="434" r="2.3"/></g><g id="n234"><circle cx="632" cy="442" r="2.3"/></g><g id="n235"><circle cx="497" cy="442" r="2.3"/></g><g id="n236"><circle cx="557" cy="457" r="2.3"/></g><g id="n237"><circle cx="490" cy="460" r="2.3"/></g><g id="n238"><circle cx="515" cy="461" r="2.3"/></g><g id="n239"><circle cx="616" cy="463" r="2.3"/></g><g id="n240"><circle cx="609" cy="475" r="2.3"/></g><g id="n241"><circle cx="638" cy="474" r="2.3"/></g><g id="n242"><circle cx="485" cy="472" r="2.3"/></g><g id="n243"><circle cx="638" cy="488" r="2.3"/></g><g id="n244"><circle cx="584" cy="491" r="2.3"/></g><g id="n245"><circle cx="627" cy="495" r="2.3"/></g><g id="n246"><circle cx="640" cy="500" r="2.3"/></g><g id="n247"><circle cx="604" cy="511" r="2.3"/></g><g id="n248"><circle cx="621" cy="518" r="2.3"/></g><g id="n249"><circle cx="614" cy="530" r="2.3"/></g>
<g id="n250"><circle cx="87" cy="542" r="2.3"/></g><g id="n251"><circle cx="108" cy="554" r="2.3"/></g><g id="n252"><circle cx="101" cy="562" r="2.3"/></g><g id="n253"><circle cx="131" cy="570" r="2.3"/></g><g id="n254"><circle cx="115" cy="592" r="2.3"/></g><g id="n255"><circle cx="156" cy="561" r="2.3"/></g><g id="n256"><circle cx="186" cy="537" r="2.3"/></g><g id="n257"><circle cx="214" cy="543" r="2.3"/></g><g id="n258"><circle cx="224" cy="569" r="2.3"/></g><g id="n259"><circle cx="228" cy="583" r="2.3"/></g><g id="n260"><circle cx="244" cy="580" r="2.3"/></g><g id="n261"><circle cx="258" cy="548" r="2.3"/></g><g id="n262"><circle cx="262" cy="560" r="2.3"/></g><g id="n263"><circle cx="268" cy="541" r="2.3"/></g><g id="n264"><circle cx="153" cy="604" r="2.3"/></g><g id="n265"><circle cx="161" cy="601" r="2.3"/></g><g id="n266"><circle cx="133" cy="607" r="2.3"/></g><g id="n267"><circle cx="148" cy="613" r="2.3"/></g><g id="n268"><circle cx="133" cy="627" r="2.3"/></g><g id="n269"><circle cx="225" cy="607" r="2.3"/></g><g id="n270"><circle cx="192" cy="612" r="2.3"/></g><g id="n271"><circle cx="181" cy="620" r="2.3"/></g><g id="n272"><circle cx="162" cy="638" r="2.3"/></g><g id="n273"><circle cx="153" cy="642" r="2.3"/></g><g id="n274"><circle cx="238" cy="632" r="2.3"/></g><g id="n275"><circle cx="211" cy="643" r="2.3"/></g><g id="n276"><circle cx="188" cy="659" r="2.3"/></g><g id="n277"><circle cx="237" cy="662" r="2.3"/></g><g id="n278"><circle cx="207" cy="672" r="2.3"/></g><g id="n279"><circle cx="225" cy="674" r="2.3"/></g><g id="n280"><circle cx="258" cy="666" r="2.3"/></g><g id="n281"><circle cx="262" cy="682" r="2.3"/></g><g id="n282"><circle cx="254" cy="690" r="2.3"/></g>
<g id="n283"><circle cx="300" cy="545" r="2.3"/></g><g id="n284"><circle cx="335" cy="545" r="2.3"/></g><g id="n285"><circle cx="367" cy="540" r="2.3"/></g><g id="n286"><circle cx="428" cy="538" r="2.3"/></g><g id="n287"><circle cx="412" cy="557" r="2.3"/></g><g id="n288"><circle cx="377" cy="570" r="2.3"/></g><g id="n289"><circle cx="318" cy="598" r="2.3"/></g><g id="n290"><circle cx="369" cy="596" r="2.3"/></g><g id="n291"><circle cx="459" cy="611" r="2.3"/></g><g id="n292"><circle cx="283" cy="618" r="2.3"/></g><g id="n293"><circle cx="358" cy="629" r="2.3"/></g><g id="n294"><circle cx="414" cy="628" r="2.3"/></g><g id="n295"><circle cx="281" cy="654" r="2.3"/></g><g id="n296"><circle cx="305" cy="656" r="2.3"/></g><g id="n297"><circle cx="331" cy="669" r="2.3"/></g><g id="n298"><circle cx="348" cy="676" r="2.3"/></g><g id="n299"><circle cx="300" cy="674" r="2.3"/></g><g id="n300"><circle cx="281" cy="679" r="2.3"/></g><g id="n301"><circle cx="394" cy="661" r="2.3"/></g><g id="n302"><circle cx="445" cy="662" r="2.3"/></g><g id="n303"><circle cx="443" cy="673" r="2.3"/></g><g id="n304"><circle cx="447" cy="676" r="2.3"/></g><g id="n305"><circle cx="422" cy="680" r="2.3"/></g><g id="n306"><circle cx="436" cy="682" r="2.3"/></g><g id="n307"><circle cx="438" cy="691" r="2.3"/></g><g id="n308"><circle cx="425" cy="695" r="2.3"/></g><g id="n309"><circle cx="404" cy="687" r="2.3"/></g><g id="n310"><circle cx="389" cy="694" r="2.3"/></g><g id="n311"><circle cx="378" cy="682" r="2.3"/></g><g id="n312"><circle cx="372" cy="698" r="2.3"/></g><g id="n313"><circle cx="354" cy="701" r="2.3"/></g><g id="n314"><circle cx="348" cy="693" r="2.3"/></g><g id="n315"><circle cx="320" cy="688" r="2.3"/></g>
<g id="n316"><circle cx="606" cy="541" r="2.3"/></g><g id="n317"><circle cx="604" cy="556" r="2.3"/></g><g id="n318"><circle cx="602" cy="561" r="2.3"/></g><g id="n319"><circle cx="589" cy="562" r="2.3"/></g><g id="n320"><circle cx="594" cy="575" r="2.3"/></g><g id="n321"><circle cx="594" cy="586" r="2.3"/></g><g id="n322"><circle cx="603" cy="595" r="2.3"/></g><g id="n323"><circle cx="584" cy="603" r="2.3"/></g><g id="n324"><circle cx="541" cy="551" r="2.3"/></g><g id="n325"><circle cx="549" cy="551" r="2.3"/></g><g id="n326"><circle cx="566" cy="574" r="2.3"/></g><g id="n327"><circle cx="535" cy="595" r="2.3"/></g><g id="n328"><circle cx="531" cy="599" r="2.3"/></g><g id="n329"><circle cx="530" cy="604" r="2.3"/></g><g id="n330"><circle cx="548" cy="616" r="2.3"/></g><g id="n331"><circle cx="577" cy="622" r="2.3"/></g><g id="n332"><circle cx="570" cy="629" r="2.3"/></g><g id="n333"><circle cx="532" cy="633" r="2.3"/></g><g id="n334"><circle cx="556" cy="638" r="2.3"/></g><g id="n335"><circle cx="521" cy="644" r="2.3"/></g><g id="n336"><circle cx="523" cy="648" r="2.3"/></g><g id="n337"><circle cx="502" cy="652" r="2.3"/></g><g id="n338"><circle cx="545" cy="654" r="2.3"/></g><g id="n339"><circle cx="473" cy="641" r="2.3"/></g><g id="n340"><circle cx="507" cy="665" r="2.3"/></g><g id="n341"><circle cx="473" cy="673" r="2.3"/></g><g id="n342"><circle cx="476" cy="674" r="2.3"/></g><g id="n343"><circle cx="472" cy="684" r="2.3"/></g>
<g id="n344"><circle cx="207" cy="417" r="2.3"/></g><g id="n345"><circle cx="225" cy="408" r="2.3"/></g><g id="n346"><circle cx="236" cy="392" r="2.3"/></g><g id="n347"><circle cx="253" cy="397" r="2.3"/></g><g id="n348"><circle cx="268" cy="410" r="2.3"/></g><g id="n349"><circle cx="288" cy="417" r="2.3"/></g><g id="n350"><circle cx="302" cy="397" r="2.3"/></g><g id="n351"><circle cx="317" cy="393" r="2.3"/></g><g id="n352"><circle cx="283" cy="437" r="2.3"/></g><g id="n353"><circle cx="270" cy="445" r="2.3"/></g><g id="n354"><circle cx="240" cy="425" r="2.3"/></g><g id="n355"><circle cx="227" cy="437" r="2.3"/></g><g id="n356"><circle cx="213" cy="447" r="2.3"/></g><g id="n357"><circle cx="230" cy="457" r="2.3"/></g><g id="n358"><circle cx="247" cy="450" r="2.3"/></g><g id="n359"><circle cx="258" cy="457" r="2.3"/></g><g id="n360"><circle cx="272" cy="458" r="2.3"/></g><g id="n361"><circle cx="285" cy="463" r="2.3"/></g><g id="n362"><circle cx="300" cy="468" r="2.3"/></g><g id="n363"><circle cx="287" cy="477" r="2.3"/></g><g id="n364"><circle cx="247" cy="477" r="2.3"/></g><g id="n365"><circle cx="233" cy="470" r="2.3"/></g><g id="n366"><circle cx="220" cy="468" r="2.3"/></g><g id="n367"><circle cx="210" cy="480" r="2.3"/></g><g id="n368"><circle cx="267" cy="483" r="2.3"/></g><g id="n369"><circle cx="300" cy="487" r="2.3"/></g><g id="n370"><circle cx="283" cy="493" r="2.3"/></g><g id="n371"><circle cx="248" cy="495" r="2.3"/></g><g id="n372"><circle cx="228" cy="500" r="2.3"/></g><g id="n373"><circle cx="262" cy="505" r="2.3"/></g><g id="n374"><circle cx="245" cy="520" r="2.3"/></g><g id="n375"><circle cx="270" cy="525" r="2.3"/></g><g id="n376"><circle cx="232" cy="360" r="2.3"/></g><g id="n377"><circle cx="248" cy="365" r="2.3"/></g><g id="n378"><circle cx="262" cy="375" r="2.3"/></g><g id="n379"><circle cx="280" cy="370" r="2.3"/></g><g id="n380"><circle cx="290" cy="385" r="2.3"/></g><g id="n381"><circle cx="225" cy="380" r="2.3"/></g><g id="n382"><circle cx="210" cy="395" r="2.3"/></g><g id="n383"><circle cx="190" cy="410" r="2.3"/></g><g id="n384"><circle cx="180" cy="430" r="2.3"/></g><g id="n385"><circle cx="192" cy="445" r="2.3"/></g><g id="n386"><circle cx="180" cy="465" r="2.3"/></g><g id="n387"><circle cx="195" cy="470" r="2.3"/></g><g id="n388"><circle cx="205" cy="505" r="2.3"/></g><g id="n389"><circle cx="220" cy="520" r="2.3"/></g><g id="n390"><circle cx="255" cy="530" r="2.3"/></g><g id="n391"><circle cx="290" cy="530" r="2.3"/></g><g id="n392"><circle cx="240" cy="345" r="2.3"/></g><g id="n393"><circle cx="220" cy="350" r="2.3"/></g><g id="n394"><circle cx="266" cy="355" r="2.3"/></g><g id="n395"><circle cx="285" cy="355" r="2.3"/></g>
<g id="n396"><circle cx="215" cy="365" r="2.3"/></g><g id="n397"><circle cx="250" cy="350" r="2.3"/></g><g id="n398"><circle cx="275" cy="395" r="2.3"/></g><g id="n399"><circle cx="245" cy="410" r="2.3"/></g><g id="n400"><circle cx="295" cy="430" r="2.3"/></g><g id="n401"><circle cx="310" cy="455" r="2.3"/></g><g id="n402"><circle cx="255" cy="470" r="2.3"/></g><g id="n403"><circle cx="240" cy="490" r="2.3"/></g><g id="n404"><circle cx="275" cy="500" r="2.3"/></g><g id="n405"><circle cx="295" cy="510" r="2.3"/></g><g id="n406"><circle cx="200" cy="430" r="2.3"/></g><g id="n407"><circle cx="185" cy="455" r="2.3"/></g><g id="n408"><circle cx="170" cy="440" r="2.3"/></g><g id="n409"><circle cx="215" cy="490" r="2.3"/></g><g id="n410"><circle cx="230" cy="535" r="2.3"/></g><g id="n411"><circle cx="280" cy="545" r="2.3"/></g><g id="n412"><circle cx="250" cy="555" r="2.3"/></g><g id="n413"><circle cx="205" cy="460" r="2.3"/></g><g id="n414"><circle cx="195" cy="425" r="2.3"/></g><g id="n415"><circle cx="295" cy="370" r="2.3"/></g><g id="n416"><circle cx="310" cy="420" r="2.3"/></g><g id="n417"><circle cx="322" cy="500" r="2.3"/></g><g id="n418"><circle cx="340" cy="460" r="2.3"/></g><g id="n419"><circle cx="330" cy="430" r="2.3"/></g><g id="n420"><circle cx="345" cy="405" r="2.3"/></g>
</g>
</svg>
